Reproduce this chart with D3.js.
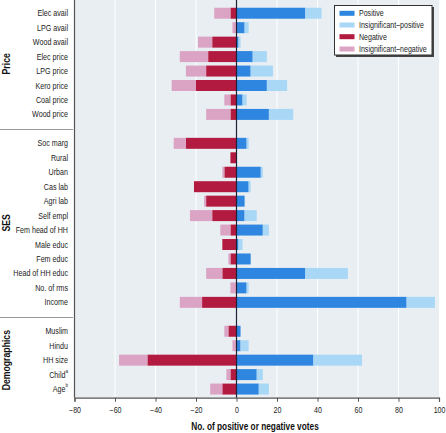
<!DOCTYPE html>
<html><head><meta charset="utf-8">
<script src="https://cdn.jsdelivr.net/npm/d3@7"></script>
<style>
html,body{margin:0;padding:0;background:#fff;}
svg{display:block;}
text{font-family:"Liberation Sans",Arial,sans-serif;}
</style></head>
<body><svg id="chart" width="446" height="433"></svg>
<script>
const groups = ["Price", "SES", "Demographics"];
const priceVars = ["Elec avail","LPG avail","Wood avail","Elec price","LPG price","Kero price","Coal price","Wood price"];
const sesVars = ["Soc marg","Rural","Urban","Cas lab","Agri lab","Self empl","Fem head of HH","Male educ","Fem educ","Head of HH educ","No. of rms","Income"];
const demoVars = ["Muslim","Hindu","HH size","Child|a","Age|b"];
const positive      = [34,4,1,8,7,15,3,16, 5,0,12,6,4,4,13,1,7,34,5,84, 2,2,38,10,11];
const insigPositive = [8,2,1,7,11,10,2,12, 1,0,1,1,0,6,3,2,0,21,1,14, 0,4,24,3,5];
const negative      = [3,0,12,14,15,20,3,3, 25,3,6,21,15,12,3,7,3,7,0,17, 4,0,44,3,7];
const insigNegative = [8,2,7,14,10,12,3,12, 6,0,1,0,1,11,5,0,1,8,3,11, 2,2,14,2,6];
const xTicks = [-80,-60,-40,-20,0,20,40,60,80,100];
const seriesNames = ["Positive","Insignificant\u2013positive","Negative","Insignificant\u2013negative"];
const colors = ["#2e86e0","#a9d8f7","#b31a40","#dba4c4"];

const allVars = priceVars.concat(sesVars, demoVars);
const slots = [...priceVars, "gap1", ...sesVars, "gap2", ...demoVars];

const SX = 0.83; // condensed text
const svg = d3.select("#chart");
const plotL = 74.5, plotR = 439, plotT = 0, plotB = 397.7;
const x = d3.scaleLinear().domain([-80,100]).range([plotL, plotR]);
const y = d3.scaleBand().domain(slots).range([6, 396.3]).paddingInner(0.24).paddingOuter(0.12);

function addText(parent, tx, ty, rot, str) {
  return parent.append("text")
    .attr("transform", `translate(${tx},${ty})${rot ? " rotate("+rot+")" : ""} scale(${SX},1)`);
}

// background
svg.append("rect").attr("x",plotL).attr("y",plotT).attr("width",plotR-plotL).attr("height",plotB-plotT).attr("fill","#e9eef3");
// grid
svg.append("g").selectAll("line").data(xTicks.filter(t=>t!==0 && t!==-80 && t!==100)).join("line")
  .attr("x1",d=>x(d)).attr("x2",d=>x(d)).attr("y1",plotT).attr("y2",plotB)
  .attr("stroke","#fff").attr("stroke-width",1);

const rows = allVars.map((v,i)=>({v, P:positive[i], IP:insigPositive[i], N:negative[i], IN:insigNegative[i]}));
const bh = y.bandwidth();
const bars = svg.append("g");
rows.forEach(r=>{
  const yy = y(r.v);
  const segs = [
    [0, r.P, colors[0]],
    [r.P, r.P+r.IP, colors[1]],
    [-r.N, 0, colors[2]],
    [-(r.N+r.IN), -r.N, colors[3]]
  ];
  segs.forEach(s=>{
    if (s[1]-s[0] <= 0) return;
    bars.append("rect").attr("x",x(s[0])).attr("y",yy).attr("width",x(s[1])-x(s[0])).attr("height",bh).attr("fill",s[2]);
  });
});

// zero line
svg.append("line").attr("x1",x(0)).attr("x2",x(0)).attr("y1",plotT).attr("y2",plotB).attr("stroke","#1f2233").attr("stroke-width",1.2);
// left axis line
svg.append("line").attr("x1",plotL).attr("x2",plotL).attr("y1",plotT).attr("y2",plotB).attr("stroke","#555").attr("stroke-width",1.2);

// bottom axis
const xAxis = d3.axisBottom(x).tickValues(xTicks).tickSize(4).tickPadding(5)
  .tickFormat(d=> d<0 ? "\u2212"+Math.abs(d) : String(d));
const gx = svg.append("g").attr("transform",`translate(0,${plotB})`).call(xAxis);
gx.select(".domain").attr("stroke","#555").attr("stroke-width",1.2);
gx.selectAll(".tick line").attr("stroke","#555");
gx.selectAll(".tick text").attr("font-size",8.5).attr("fill","#222")
  .attr("font-family",'"Liberation Sans",Arial,sans-serif')
  .attr("transform",`scale(${SX},1)`);

// axis title
addText(svg, 255, 430, 0).attr("text-anchor","middle")
  .attr("font-size",10).attr("font-weight","bold").attr("fill","#111")
  .text("No. of positive or negative votes");

// row labels
const lab = svg.append("g");
rows.forEach(r=>{
  const parts = r.v.split("|");
  const t = addText(lab, 68, y(r.v)+bh/2, 0).attr("dy","0.35em")
    .attr("text-anchor","end").attr("font-size",8.6).attr("fill","#222");
  t.append("tspan").text(parts[0]);
  if (parts[1]) t.append("tspan").attr("font-size",5.5).attr("dy","-0.9em").text(parts[1]);
});

// group labels + separators
const groupLists = [priceVars, sesVars, demoVars];
groupLists.forEach((lst,gi)=>{
  const first = lst[0], last = lst[lst.length-1];
  const cy = (y(first) + y(last) + bh)/2;
  addText(svg, 9.5, cy, -90)
    .attr("text-anchor","middle").attr("font-size",10.5).attr("font-weight","bold").attr("fill","#111")
    .text(groups[gi]);
});
["gap1","gap2"].forEach(g=>{
  const yy = Math.round(y(g)+bh/2)+0.5;
  svg.append("line").attr("x1",0).attr("x2",73).attr("y1",yy).attr("y2",yy).attr("stroke","#999").attr("stroke-width",1);
});

// legend
const lg = svg.append("g");
lg.append("rect").attr("x",336).attr("y",7).attr("width",98).attr("height",50).attr("fill","#444");
lg.append("rect").attr("x",334.5).attr("y",5.5).attr("width",97.5).attr("height",49.5).attr("fill","#fff").attr("stroke","#333").attr("stroke-width",1);
const ly = [13.3, 25, 36.7, 49];
seriesNames.forEach((n,i)=>{
  lg.append("rect").attr("x",339.5).attr("y",ly[i]-2.5).attr("width",15).attr("height",5).attr("fill",colors[i]);
  addText(lg, 359, ly[i], 0).attr("dy","0.35em").attr("font-size",8.5).attr("fill","#222").text(n);
});
</script></body></html>
